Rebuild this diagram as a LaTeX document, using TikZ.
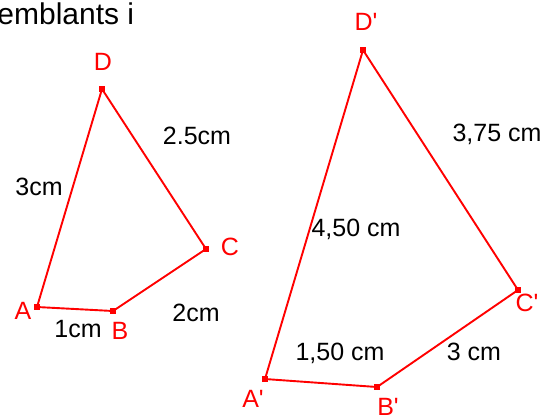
\documentclass[tikz,border=0pt]{standalone}
\usepackage{fontspec}
\setmainfont{Liberation Sans}
\usepackage{tikz}
\usetikzlibrary{positioning}

\begin{document}
\begin{tikzpicture}[
  x=0.5pt, y=-0.5pt,
  vertex/.style={fill=red, draw=none, rectangle, inner sep=0pt, minimum size=2.8pt},
  edge/.style={draw=red, line width=0.95pt, line join=miter},
  ptlabel/.style={text=red, inner sep=0pt, font=\fontsize{12.5}{14}\selectfont},
  measure/.style={text=black, inner sep=0pt, font=\fontsize{12.5}{14}\selectfont}
]
\useasboundingbox (0,0) rectangle (555,414);
% title, cut at the left edge
\node[measure, anchor=base west, font=\fontsize{15}{17}\selectfont] (title) at (-3,24) {emblants i};

% small quadrilateral ABCD
\node[vertex] (A) at (37,307) {};
\node[vertex] (B) at (113,311) {};
\node[vertex] (C) at (206,249) {};
\node[vertex] (D) at (102,89) {};
\draw[edge] (A.center) -- (B.center) -- (C.center) -- (D.center) -- cycle;
\node[ptlabel] (labA) at (23,311) {A};
\node[ptlabel] (labB) at (120,331) {B};
\node[ptlabel] (labC) at (230,247) {C};
\node[ptlabel] (labD) at (103,62) {D};
\node[measure] (AB) at (78,329) {1cm};
\node[measure] (BC) at (196,313) {2cm};
\node[measure] (CD) at (197,136) {2.5cm};
\node[measure] (DA) at (39,187) {3cm};

% large quadrilateral A'B'C'D'
\node[vertex] (Ap) at (265,379) {};
\node[vertex] (Bp) at (377,387) {};
\node[vertex] (Cp) at (518,290) {};
\node[vertex] (Dp) at (363,50) {};
\draw[edge] (Ap.center) -- (Bp.center) -- (Cp.center) -- (Dp.center) -- cycle;
\node[ptlabel] (labAp) at (253,399) {A\textquotesingle};
\node[ptlabel] (labBp) at (388,407) {B\textquotesingle};
\node[ptlabel] (labCp) at (527,303) {C\textquotesingle};
\node[ptlabel] (labDp) at (366,22) {D\textquotesingle};
\node[measure] (ApBp) at (340,353) {1,50 cm};
\node[measure] (BpCp) at (474,352) {3 cm};
\node[measure] (CpDp) at (497,134) {3,75 cm};
\node[measure] (DpAp) at (356,229) {4,50 cm};
\end{tikzpicture}
\end{document}
